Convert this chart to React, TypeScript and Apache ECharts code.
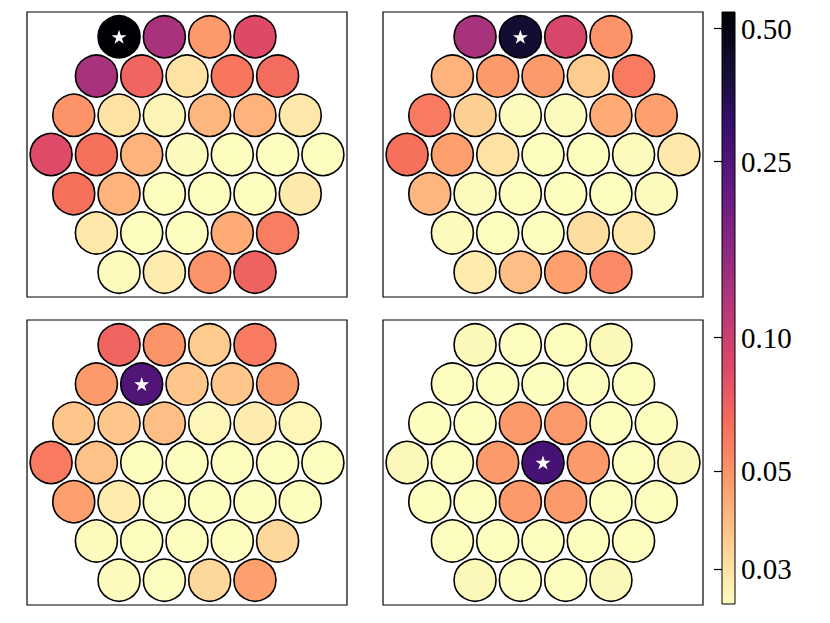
import React, { useEffect, useRef } from "react";
import * as echarts from "echarts";

// magma colour map, 0 -> 1
const MAGMA = ["#000004", "#140e36", "#3b0f70", "#641a80", "#8c2981", "#b73779", "#de4968", "#f7705c", "#fe9f6d", "#fecf92", "#fcfdbf"];
const VMIN = 0.025;
const VMAX = 0.545;
const TICKS = [0.03, 0.05, 0.1, 0.25, 0.5];
const ROW_LENGTHS = [4, 5, 6, 7, 6, 5, 4];

const panelA = [
  [0.54, 0.13, 0.048, 0.086],
  [0.13, 0.069, 0.03, 0.061, 0.065],
  [0.05, 0.03, 0.0265, 0.04, 0.041, 0.029],
  [0.085, 0.063, 0.041, 0.0255, 0.025, 0.025, 0.025],
  [0.063, 0.041, 0.025, 0.025, 0.025, 0.0285],
  [0.029, 0.025, 0.025, 0.043, 0.058],
  [0.0255, 0.028, 0.05, 0.07],
];
const panelB = [
  [0.13, 0.405, 0.09, 0.05],
  [0.041, 0.048, 0.048, 0.035, 0.059],
  [0.059, 0.034, 0.0255, 0.0255, 0.043, 0.046],
  [0.063, 0.046, 0.03, 0.025, 0.025, 0.0255, 0.029],
  [0.04, 0.0255, 0.025, 0.025, 0.025, 0.0255],
  [0.0255, 0.025, 0.025, 0.031, 0.029],
  [0.028, 0.038, 0.046, 0.053],
];
const panelC = [
  [0.069, 0.05, 0.035, 0.059],
  [0.048, 0.25, 0.036, 0.036, 0.048],
  [0.036, 0.036, 0.038, 0.026, 0.028, 0.026],
  [0.059, 0.037, 0.025, 0.025, 0.025, 0.025, 0.025],
  [0.046, 0.028, 0.025, 0.025, 0.025, 0.025],
  [0.0255, 0.025, 0.025, 0.025, 0.032],
  [0.0255, 0.025, 0.032, 0.046],
];
const panelD = [
  [0.0258, 0.025, 0.025, 0.0258],
  [0.025, 0.025, 0.025, 0.025, 0.025],
  [0.025, 0.025, 0.048, 0.048, 0.025, 0.025],
  [0.0258, 0.025, 0.048, 0.27, 0.048, 0.025, 0.0258],
  [0.025, 0.025, 0.048, 0.048, 0.025, 0.025],
  [0.025, 0.025, 0.025, 0.025, 0.025],
  [0.0258, 0.025, 0.025, 0.0258],
];
const PANELS = [panelA, panelB, panelC, panelD];

const STAR = "path://M50,0 L61.2,34.5 L97.6,34.5 L68.2,55.9 L79.4,90.5 L50,69.1 L20.6,90.5 L31.8,55.9 L2.4,34.5 L38.8,34.5 Z";
const FONT = "Liberation Serif";

function buildPoints(rows: number[][]) {
  const pts: any[] = [];
  let best: any = null;
  rows.forEach((row, r) => {
    const n = ROW_LENGTHS[r];
    const y = (3 - r) * (Math.sqrt(3) / 2);
    row.forEach((v, c) => {
      const x = c - (n - 1) / 2;
      const p = { value: [x, y, Math.log10(v), v] };
      pts.push(p);
      if (!best || v > best.value[3]) best = p;
    });
  });
  return { pts, best };
}

export default function App() {
  const ref = useRef<HTMLDivElement>(null);
  useEffect(() => {
    if (!ref.current) return;
    const chart = echarts.init(ref.current, null, { renderer: "svg" });
    const gridPos = [
      { left: 27, top: 12 },
      { left: 383, top: 12 },
      { left: 27, top: 320 },
      { left: 383, top: 320 },
    ];
    const grids: any[] = gridPos.map((g) => ({
      left: g.left,
      top: g.top,
      width: 320,
      height: 285,
      show: true,
      borderColor: "#000",
      borderWidth: 1.2,
      backgroundColor: "#fff",
    }));
    grids.push({ left: 722, top: 12, width: 13, height: 592 });
    const xHalf = 160 / 45.3;
    const yHalf = 142.5 / 45.3;
    const xAxes: any[] = gridPos.map((_, i) => ({ type: "value", gridIndex: i, min: -xHalf, max: xHalf, show: false }));
    const yAxes: any[] = gridPos.map((_, i) => ({ type: "value", gridIndex: i, min: -yHalf, max: yHalf, show: false }));
    xAxes.push({ type: "value", gridIndex: 4, min: 0, max: 1, show: false });
    yAxes.push({
      type: "log",
      gridIndex: 4,
      min: VMIN,
      max: VMAX,
      position: "right",
      z: 10,
      axisLine: { show: false },
      splitLine: { show: false },
      axisTick: { show: true, inside: true, length: 8, lineStyle: { color: "#000", width: 1.2 }, customValues: TICKS },
      axisLabel: {
        show: true,
        customValues: TICKS,
        formatter: (v: number) => Number(v).toFixed(2),
        fontFamily: FONT,
        fontSize: 29,
        color: "#000",
        margin: 6,
      },
    });
    const built = PANELS.map(buildPoints);
    const circleSeries = built.map((b, i) => ({
      type: "scatter",
      xAxisIndex: i,
      yAxisIndex: i,
      symbol: "circle",
      symbolSize: 42,
      itemStyle: { borderColor: "#000", borderWidth: 1.6, opacity: 1 },
      data: b.pts,
      z: 2,
    }));
    const starSeries = built.map((b, i) => ({
      type: "scatter",
      xAxisIndex: i,
      yAxisIndex: i,
      symbol: STAR,
      symbolSize: [15, 14],
      itemStyle: { color: "#ffffff", opacity: 1 },
      data: [b.best.value.slice(0, 2)],
      z: 3,
    }));
    const colorbar = {
      type: "custom",
      xAxisIndex: 4,
      yAxisIndex: 4,
      data: [[0, VMIN]],
      renderItem: (_p: any, api: any) => {
        const p0 = api.coord([0, VMAX]);
        const p1 = api.coord([1, VMIN]);
        return {
          type: "rect",
          shape: { x: p0[0], y: p0[1], width: p1[0] - p0[0], height: p1[1] - p0[1] },
          style: {
            fill: new echarts.graphic.LinearGradient(0, 0, 0, 1, MAGMA.map((c, i) => ({ offset: i / 10, color: c }))),
            stroke: "#000",
            lineWidth: 1,
          },
        };
      },
    };
    chart.setOption({
      animation: false,
      backgroundColor: "#fff",
      grid: grids,
      xAxis: xAxes,
      yAxis: yAxes,
      visualMap: {
        type: "continuous",
        show: false,
        dimension: 2,
        seriesIndex: [0, 1, 2, 3],
        min: Math.log10(VMIN),
        max: Math.log10(VMAX),
        inRange: { color: MAGMA.slice().reverse() },
      },
      series: [...circleSeries, ...starSeries, colorbar],
    });
    return () => chart.dispose();
  }, []);
  return <div ref={ref} style={{ position: "fixed", left: 0, top: 0, width: 830, height: 623 }} />;
}
